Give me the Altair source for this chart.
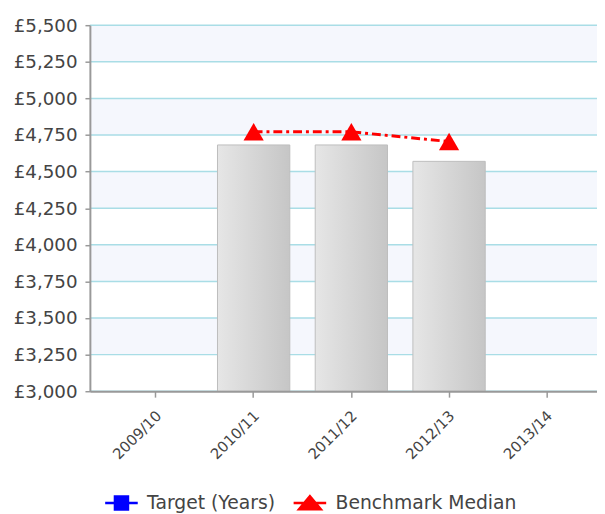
import altair as alt
import pandas as pd

years = ["2009/10", "2010/11", "2011/12", "2012/13", "2013/14"]
actual = [None, 4682, 4682, 4570, None]
benchmark = [None, 4772, 4772, 4705, None]
band_lo = [3250, 3750, 4250, 4750, 5250]
band_hi = [3500, 4000, 4500, 5000, 5500]
series = ["Target (Years)", "Benchmark Median"]
series_colors = ["#0000ff", "#ff0000"]
y_ticks = [3000, 3250, 3500, 3750, 4000, 4250, 4500, 4750, 5000, 5250, 5500]

W, H = 514, 371
FONT = "DejaVu Sans"

df = pd.DataFrame({"year": years, "actual": actual, "bench": benchmark})
bars_df = df.dropna(subset=["actual"])
bench_df = df.dropna(subset=["bench"])
bands_df = pd.DataFrame({"lo": band_lo, "hi": band_hi})
leg_df = pd.DataFrame({"series": series})

xscale = alt.Scale(domain=years, paddingInner=0.26, paddingOuter=0.225, align=0.68)
yscale = alt.Scale(domain=[3000, 5500], zero=False, nice=False)

yaxis = alt.Axis(title=None, values=y_ticks,
                 labelExpr="'£' + format(datum.value, ',')", labelFont=FONT,
                 labelFontSize=18.5, labelColor="#444", tickColor="#999", tickSize=5,
                 tickWidth=1.5, domainColor="#999", domainWidth=2, grid=False,
                 labelPadding=8, zindex=2)
xaxis = alt.Axis(title=None, labelAngle=-45, labelAlign="right", labelBaseline="middle",
                 labelFont=FONT, labelFontSize=15, labelColor="#444",
                 tickColor="#999", tickSize=6, tickWidth=1.5, domainColor="#999",
                 domainWidth=2, labelPadding=16, labelOffset=3, grid=False, zindex=2)

bands = alt.Chart(bands_df).mark_rect(color="#f5f7fd").encode(
    x=alt.value(0), x2=alt.value(W),
    y=alt.Y("lo:Q", scale=yscale, axis=yaxis),
    y2="hi:Q",
)

grid = alt.Chart(pd.DataFrame({"v": y_ticks})).mark_rule(color="#a9dde6", strokeWidth=1.5).encode(
    y=alt.Y("v:Q", scale=yscale, axis=yaxis),
)

grad = alt.Gradient(
    gradient="linear",
    stops=[alt.GradientStop(color="#e6e6e6", offset=0),
           alt.GradientStop(color="#c6c6c6", offset=1)],
    x1=0, x2=1, y1=0, y2=0,
)

bars = alt.Chart(bars_df).mark_bar(color=grad, stroke="#bdbdbd", strokeWidth=1).encode(
    x=alt.X("year:N", scale=xscale, sort=years, axis=xaxis),
    y=alt.Y("actual:Q", scale=yscale, axis=yaxis),
    y2=alt.datum(3000),
)

line = alt.Chart(bench_df).mark_line(color="#ff0000", strokeWidth=3, strokeDash=[9, 4, 3, 4]).encode(
    x=alt.X("year:N", scale=xscale, sort=years, axis=xaxis),
    y=alt.Y("bench:Q", scale=yscale, axis=yaxis),
)

pts = alt.Chart(bench_df).mark_point(shape="triangle-up", filled=True, color="#ff0000",
                                     size=420, opacity=1).encode(
    x=alt.X("year:N", scale=xscale, sort=years, axis=xaxis),
    y=alt.Y("bench:Q", scale=yscale, axis=yaxis),
)

sq_path = "M-1,0L1,0M-0.4,-0.4L0.4,-0.4L0.4,0.4L-0.4,0.4Z"
tri_path = "M-1,0L1,0M-0.67,0.38L0,-0.42L0.67,0.38Z"

legend = alt.Legend(
    title=None, orient="none", direction="horizontal", legendX=14, legendY=466,
    labelFont=FONT, labelFontSize=19, labelColor="#444", symbolSize=1089,
    symbolStrokeWidth=2.5, symbolOpacity=1, labelOffset=8, columnPadding=13, padding=0,
    labelLimit=400,
)

leg = alt.Chart(leg_df).mark_point(filled=True, opacity=0, strokeWidth=2.5).encode(
    x=alt.value(0), y=alt.value(0),
    fill=alt.Fill("series:N", scale=alt.Scale(domain=series, range=series_colors), legend=legend),
    stroke=alt.Stroke("series:N", scale=alt.Scale(domain=series, range=series_colors), legend=legend),
    shape=alt.Shape("series:N", scale=alt.Scale(domain=series, range=[sq_path, tri_path]), legend=legend),
)

chart = alt.layer(bands, grid, bars, line, pts, leg).properties(
    width=W, height=H,
    autosize=alt.AutoSizeParams(type="none"),
    padding={"left": 83, "top": 14, "right": 0, "bottom": 120},
).configure_view(stroke=None)

chart.save("out.html", embed_options={"renderer": "svg", "actions": False})
